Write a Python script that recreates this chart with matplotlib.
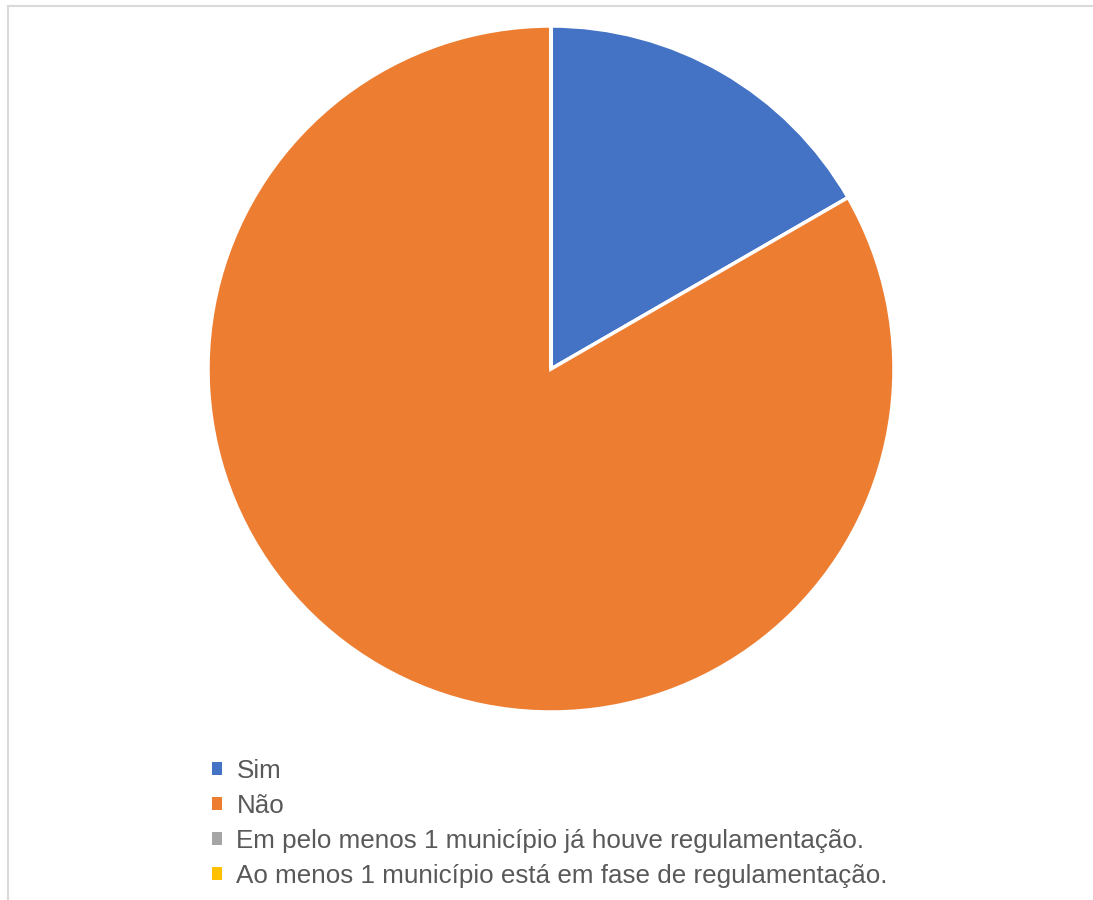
import matplotlib.pyplot as plt
from matplotlib.patches import Patch
from matplotlib.lines import Line2D

plt.rcParams['font.family'] = ['Liberation Sans', 'DejaVu Sans']

# respostas
categorias = ['Sim', 'Não',
              'Em pelo menos 1 município já houve regulamentação.',
              'Ao menos 1 município está em fase de regulamentação.']
valores = [1, 5, 0, 0]
cores = ['#4472c4', '#ed7d31', '#a5a5a5', '#ffc000']

W, H = 1093, 900
fig = plt.figure(figsize=(W / 100, H / 100), dpi=100)

# moldura cinza (cortada a direita e embaixo)
fig.add_artist(Line2D([8 / W, 1], [1 - 6 / H, 1 - 6 / H], color='#d9d9d9', lw=1.5))
fig.add_artist(Line2D([8 / W, 8 / W], [0, 1 - 6 / H], color='#d9d9d9', lw=1.5))

ax = fig.add_axes([208 / W, (H - 712) / H, 686 / W, 686 / H])
ax.pie(valores, colors=cores, startangle=90, counterclock=False, radius=1,
       wedgeprops=dict(edgecolor='white', linewidth=2.5))
ax.set_xlim(-1, 1)
ax.set_ylim(-1, 1)

handles = [Patch(facecolor=c, edgecolor='none') for c in cores]
fig.legend(handles, categorias, loc='upper left', bbox_to_anchor=(212 / W, 1 - 759 / H),
           frameon=False, fontsize=18.7, labelcolor='#595959',
           handlelength=0.39, handleheight=0.39, handletextpad=0.55,
           labelspacing=0.42, borderaxespad=0, borderpad=0)

fig.savefig('out.png', dpi=100)
